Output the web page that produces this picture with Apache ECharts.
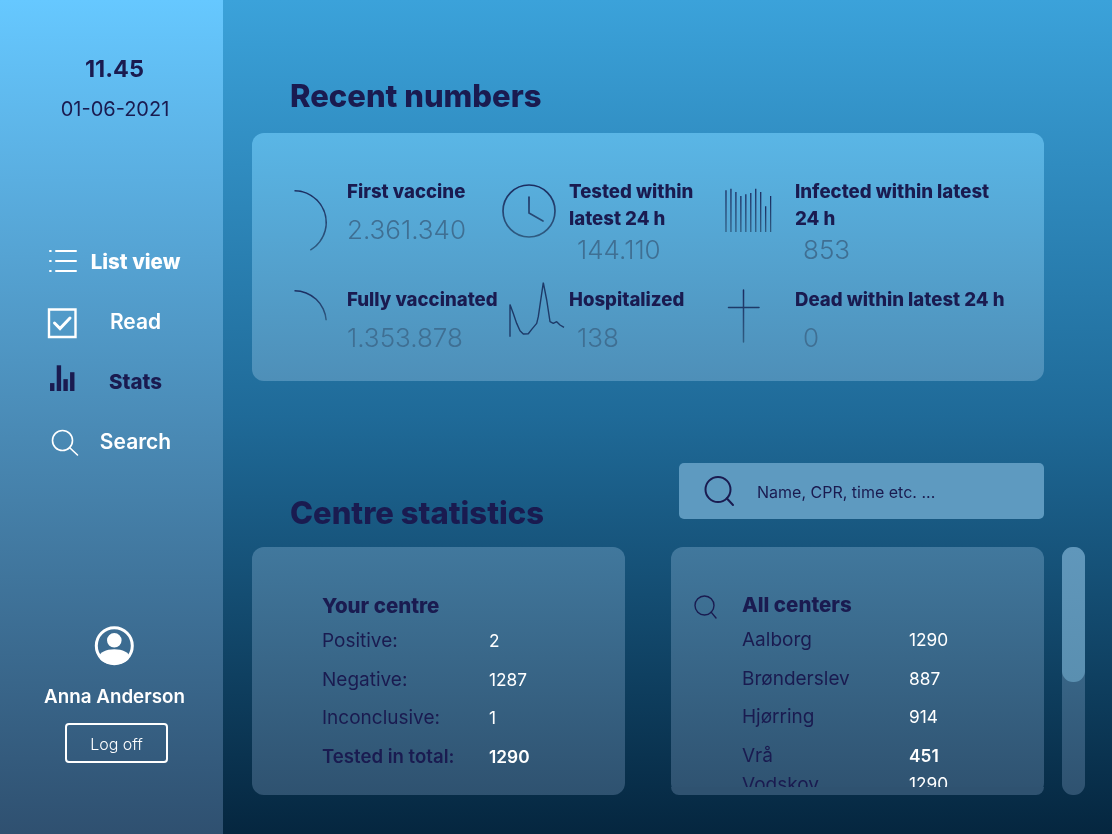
<!DOCTYPE html>
<html>
<head>
<meta charset="utf-8">
<title>Recent numbers</title>
<style>
html, body { margin: 0; padding: 0; background: #05263f; }
#main { width: 1112px; height: 834px; }
</style>
<script src="https://cdn.jsdelivr.net/npm/echarts@6/dist/echarts.min.js"></script>
</head>
<body>
<div id="main"></div>
<script>
// data
var firstVaccine = 2361340;
var fullyVaccinated = 1353878;
var population = 5663000; // estimated from the size of the arcs

var metricLabels = [['First vaccine'], ['Tested within', 'latest 24 h'], ['Infected within latest', '24 h'],
    ['Fully vaccinated'], ['Hospitalized'], ['Dead within latest 24 h']];
var metricValues = ['2.361.340', '144.110', '853', '1.353.878', '138', '0'];

var infectedBars = [41.7, 43.3, 40, 36, 37.7, 39, 43.3, 40, 25.7, 36];
var statsBars = [8, 26, 12, 19];
var hospitalTrendX = [0, 0, 3.3, 6.7, 10, 13.3, 18.3, 21.7, 26.7, 28.3, 33.3, 36.7, 40, 43.3, 46.7, 50, 54];
var hospitalTrendY = [0, 32.3, 23.3, 13.3, 6, 2.7, 3, 7.3, 13.3, 20, 54, 36.7, 15, 13.3, 15, 11.7, 9.3];

var yourCentreLabels = ['Positive:', 'Negative:', 'Inconclusive:', 'Tested in total:'];
var yourCentreValues = ['2', '1287', '1', '1290'];
var allCentreLabels = ['Aalborg', 'Brønderslev', 'Hjørring', 'Vrå', 'Vodskov'];
var allCentreValues = ['1290', '887', '914', '451', '1290'];

var navy = '#1a1b50';
var iconInk = '#1e3a68';
var valueInk = '#3f6f93';
var white = '#ffffff';
var fontFamily = 'Inter, "Noto Sans", sans-serif';

function vGrad(top, bottom) {
    return new echarts.graphic.LinearGradient(0, 0, 0, 1, [{offset: 0, color: top}, {offset: 1, color: bottom}]);
}

function inkFade(y1, y2) {
    return new echarts.graphic.LinearGradient(0, y1, 0, y2, [{offset: 0, color: '#1b2c60'}, {offset: 1, color: '#2f5c82'}], true);
}

function text(str, x, y, size, weight, fill, align) {
    return {
        type: 'text', x: x, y: y + 2, z: 5, silent: true,
        style: {
            text: str, fill: fill, fontFamily: fontFamily, fontSize: size, fontWeight: weight,
            textAlign: align || 'left', textVerticalAlign: 'middle'
        }
    };
}

function box(x, y, w, h, r, fill, z) {
    return {type: 'rect', z: z || 1, silent: true, shape: {x: x, y: y, width: w, height: h, r: r}, style: {fill: fill}};
}

function stroke(type, shape, color, width, z) {
    return {type: type, z: z || 4, silent: true, shape: shape,
        style: {fill: 'none', stroke: color, lineWidth: width, lineCap: 'round'}};
}

function searchIcon(cx, cy, r, x2, y2, color, width) {
    return [
        stroke('circle', {cx: cx, cy: cy, r: r}, color, width),
        stroke('line', {x1: cx + r * 0.7, y1: cy + r * 0.7, x2: x2, y2: y2}, color, width)
    ];
}

var elements = [
    box(0, 0, 1112, 834, 0, new echarts.graphic.LinearGradient(0, 0, 0, 1, [
        {offset: 0, color: '#3ba2da'}, {offset: 0.5, color: '#1f6a98'}, {offset: 1, color: '#05263f'}]), 0),
    box(0, 0, 223, 834, 0, vGrad('#66c8ff', '#2f5070'), 0),
    box(252, 133, 792, 248, 12, vGrad('#5ab6e6', '#4e8fb8')),
    box(679, 463, 365, 56, 5, '#5e9ac0'),
    box(252, 547, 373, 248, 12, vGrad('#41789d', '#2f5270')),
    box(671, 547, 373, 248, 12, vGrad('#41789d', '#2f5270')),
    box(1062, 547, 23, 248, 11, vGrad('#41789d', '#2f5270')),
    box(1062, 547, 23, 135, 11, vGrad('#6097bb', '#5a8fb0'), 2),

    text('11.45', 114.5, 68, 23.5, 700, navy, 'center'),
    text('01-06-2021', 115, 108, 20, 400, navy, 'center'),
    text('List view', 135.5, 261, 20.5, 800, white, 'center'),
    text('Read', 135.5, 321, 21, 600, white, 'center'),
    text('Stats', 135.5, 381, 20.5, 800, navy, 'center'),
    text('Search', 135.5, 441, 21, 600, white, 'center'),
    text('Anna Anderson', 114.5, 695, 18.8, 600, white, 'center'),
    text('Log off', 116.5, 743, 16, 300, white, 'center'),
    text('Recent numbers', 290, 96, 31, 800, navy),
    text('Centre statistics', 290, 513, 31, 800, navy),
    text('Name, CPR, time etc. ...', 757, 491, 16, 400, navy),

    // list icon
    stroke('line', {x1: 50, y1: 251, x2: 50.8, y2: 251}, white, 2),
    stroke('line', {x1: 50, y1: 261, x2: 50.8, y2: 261}, white, 2),
    stroke('line', {x1: 50, y1: 271, x2: 50.8, y2: 271}, white, 2),
    stroke('line', {x1: 56, y1: 251, x2: 76, y2: 251}, white, 2),
    stroke('line', {x1: 56, y1: 261, x2: 76, y2: 261}, white, 2),
    stroke('line', {x1: 56, y1: 271, x2: 76, y2: 271}, white, 2),
    // check box
    stroke('rect', {x: 49, y: 309.5, width: 26.5, height: 27.5}, white, 2.4),
    stroke('polyline', {points: [[54.5, 323], [60, 328.5], [70, 318]]}, white, 3),
    // user icon
    stroke('circle', {cx: 114.3, cy: 645.7, r: 18}, white, 3),
    {type: 'circle', z: 4, silent: true, shape: {cx: 114.3, cy: 640.3, r: 7.3}, style: {fill: white}},
    {type: 'ellipse', z: 4, silent: true, shape: {cx: 114.3, cy: 656.7, rx: 15, ry: 7.5}, style: {fill: white}},
    // log off button
    stroke('rect', {x: 66, y: 724, width: 101, height: 38, r: 3}, white, 2),
    // clock
    stroke('circle', {cx: 529, cy: 211, r: 26}, inkFade(185, 237), 1.7),
    stroke('polyline', {points: [[529, 197], [529, 213], [543, 221]]}, inkFade(185, 237), 1.7),
    // cross
    stroke('line', {x1: 743.5, y1: 290, x2: 743.5, y2: 342}, inkFade(290, 342), 1.5),
    stroke('line', {x1: 728.5, y1: 307.5, x2: 759, y2: 307.5}, iconInk, 1.5),
    // mask clipping the scrolled list
    box(671, 787, 373, 8, [0, 0, 12, 12], '#2f5270', 6)
].concat(
    searchIcon(62.5, 440.5, 10, 77.5, 455, white, 1.6),
    searchIcon(718, 489.5, 12.5, 733, 505, navy, 2),
    searchIcon(704.5, 605.5, 9.5, 716, 618, navy, 1.4)
);

// metric captions and numbers
var metricColumns = [347, 569, 795];
var valueColumns = [347, 577, 803];
metricLabels.forEach(function (lines, i) {
    var col = i % 3;
    var rowY = i < 3 ? 190 : 298;
    lines.forEach(function (line, k) {
        elements.push(text(line, metricColumns[col], rowY + k * 27, 18.6, 800, navy));
    });
    var valueY = rowY + (lines.length > 1 ? 59 : 39);
    elements.push(text(metricValues[i], valueColumns[col], valueY, 26, 300, valueInk));
});

// centre tables
elements.push(text('Your centre', 322, 604.5, 20.5, 800, navy));
var yourRowY = [639.5, 678.5, 716.5, 755.5];
yourCentreLabels.forEach(function (label, i) {
    var last = i === yourCentreLabels.length - 1;
    elements.push(text(label, 322, yourRowY[i], last ? 18.6 : 19, last ? 600 : 400, navy));
    elements.push(text(yourCentreValues[i], 489, yourRowY[i], 17.3, last ? 600 : 400, white));
});
elements.push(text('All centers', 742, 603.5, 20.5, 800, navy));
var allRowY = [638.5, 677.5, 715.5, 754.5, 783];
allCentreLabels.forEach(function (label, i) {
    elements.push(text(label, 742, allRowY[i], 19, 400, navy));
    elements.push(text(allCentreValues[i], 909, allRowY[i], 17.3, i === 3 ? 600 : 400, white));
});

function arcSeries(value, cx, cy) {
    return {
        type: 'pie', silent: true, animation: false, clockwise: true, startAngle: 90,
        center: [cx, cy], radius: [31, 32.5], label: {show: false}, labelLine: {show: false},
        data: [
            {value: value, itemStyle: {color: vGrad('#1b2c60', '#2f5c82')}},
            {value: population - value, itemStyle: {color: 'transparent'}}
        ]
    };
}

function miniGrid(left, top, width, height) {
    return {left: left, top: top, width: width, height: height, containLabel: false};
}

function hiddenAxis(type, gridIndex, extra) {
    return Object.assign({type: type, gridIndex: gridIndex, show: false}, extra);
}

var option = {
    animation: false,
    graphic: {elements: elements},
    grid: [
        miniGrid(723.5, 187, 49.6, 45),
        miniGrid(48.9, 364.3, 26.7, 26.7),
        miniGrid(510, 282.7, 54, 54)
    ],
    xAxis: [
        hiddenAxis('category', 0, {data: infectedBars.map(function (v, i) { return i; })}),
        hiddenAxis('category', 1, {data: statsBars.map(function (v, i) { return i; })}),
        hiddenAxis('value', 2, {min: 0, max: 54})
    ],
    yAxis: [
        hiddenAxis('value', 0, {min: 0, max: 45}),
        hiddenAxis('value', 1, {min: 0, max: 27}),
        hiddenAxis('value', 2, {min: 0, max: 54})
    ],
    series: [
        arcSeries(firstVaccine, 294.5, 222.5),
        arcSeries(fullyVaccinated, 294.5, 322.5),
        {
            type: 'bar', xAxisIndex: 0, yAxisIndex: 0, data: infectedBars, barWidth: 1.3, silent: true,
            itemStyle: {color: vGrad('#1b2c60', '#2f5c82')}
        },
        {
            type: 'bar', xAxisIndex: 1, yAxisIndex: 1, data: statsBars, barWidth: 4.4, silent: true,
            itemStyle: {color: navy}
        },
        {
            type: 'line', xAxisIndex: 2, yAxisIndex: 2, silent: true, showSymbol: false, symbol: 'none',
            data: hospitalTrendX.map(function (x, i) { return [x, hospitalTrendY[i]]; }),
            lineStyle: {color: iconInk, width: 1.4}, smooth: false
        }
    ]
};

var myChart = echarts.init(document.getElementById('main'));
myChart.setOption(option);
window.addEventListener('resize', function () {
    myChart.resize();
});
</script>
</body>
</html>
